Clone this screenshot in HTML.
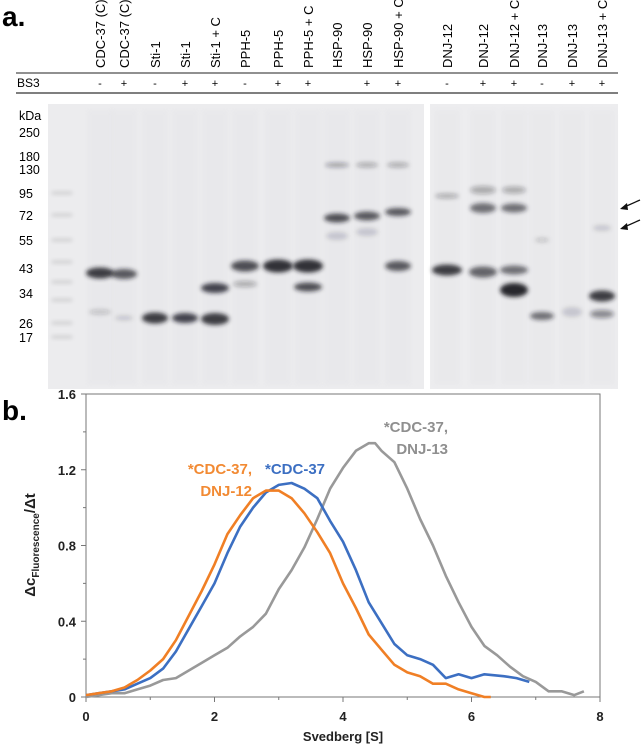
<!DOCTYPE html>
<html><head><meta charset="utf-8">
<style>
body{margin:0;background:#fff;font-family:"Liberation Sans",Arial,sans-serif;}
#wrap{position:relative;width:644px;height:750px;overflow:hidden;}
svg text{font-family:"Liberation Sans",Arial,sans-serif;}
</style></head>
<body>
<div id="wrap">
<svg width="644" height="750" viewBox="0 0 644 750">
<defs>
<filter id="blur" x="-50%" y="-200%" width="200%" height="500%"><feGaussianBlur stdDeviation="2.2"/></filter>
</defs>
<text x="2" y="26" font-size="28" font-weight="bold">a.</text>
<text x="2" y="420" font-size="28" font-weight="bold">b.</text>
<g id="gel"></g>
<g id="chart"></g>
</svg>
</div>
<script>
const NS='http://www.w3.org/2000/svg';
function mk(tag,attrs,parent,txt){const e=document.createElementNS(NS,tag);for(const k in attrs)e.setAttribute(k,attrs[k]);if(txt!==undefined)e.textContent=txt;parent.appendChild(e);return e;}

// ---------- Gel ----------
const laneNames=['CDC-37 (C)','CDC-37 (C)','Sti-1','Sti-1','Sti-1 + C','PPH-5','PPH-5','PPH-5 + C','HSP-90','HSP-90','HSP-90 + C','DNJ-12','DNJ-12','DNJ-12 + C','DNJ-13','DNJ-13','DNJ-13 + C'];
const laneBS3=['-','+','-','+','+','-','+','+','','+','+','-','+','+','-','+','+'];
const laneX=[100,124,155,185,215,245,278,308,337,367,398,447,483,514,542,572,602];
const kdaLabels=['kDa','250','180','130','95','72','55','43','34','26','17'];
const kdaY=[115,132,156,169,193,215,240,268,293,323,337];
const bands=[[0,273,28,9,0.85],[0,312,22,3,0.2],[1,274,26,8,0.7],[1,318,18,3,0.15],
[2,318,26,9,0.85],[3,318,26,8,0.8],[4,319,28,10,0.85],[4,288,28,8,0.8],
[5,266,28,9,0.75],[5,284,24,4,0.3],[6,266,30,11,0.9],[7,266,30,11,0.9],[7,287,28,7,0.75],
[8,218,26,7,0.75],[8,165,24,3,0.35],[8,236,22,6,0.15],[9,216,26,7,0.7],[9,165,22,3,0.3],[9,232,22,6,0.15],[10,212,26,6,0.7],[10,165,22,3,0.3],[10,266,26,8,0.7],
[11,270,30,9,0.85],[11,196,24,3,0.3],[12,272,28,9,0.65],[12,208,26,8,0.6],[12,190,26,6,0.3],[13,270,28,7,0.6],[13,290,28,12,0.95],[13,208,26,7,0.6],[13,190,24,5,0.3],
[14,316,24,6,0.6],[14,240,14,2,0.2],[15,312,20,8,0.15],[16,296,26,9,0.85],[16,314,24,6,0.45],[16,228,18,4,0.15]];

const gel=document.getElementById('gel');
laneNames.forEach((n,i)=>{
  const t=mk('text',{x:0,y:0,'font-size':13,transform:`translate(${laneX[i]+5},68) rotate(-90)`},gel,n);
  
  
  const b=mk('text',{x:laneX[i],y:87,'font-size':11,'text-anchor':'middle'},gel,laneBS3[i]);
  
  
});
mk('line',{x1:16,y1:73,x2:618,y2:73,stroke:'#222','stroke-width':1},gel);
mk('line',{x1:16,y1:93,x2:618,y2:93,stroke:'#555','stroke-width':1.5},gel);
const bsl=mk('text',{x:17,y:87,'font-size':12},gel,'BS3');


kdaLabels.forEach((k,i)=>{
  const t=mk('text',{x:19,y:kdaY[i]+5,'font-size':12.5},gel,k);
  
  
});
const g1=mk('rect',{x:48,y:104,width:376,height:285,fill:'#ececee'},gel);


const g2=mk('rect',{x:430,y:104,width:188,height:285,fill:'#ededef'},gel);


laneX.forEach(x=>{mk('rect',{x:x-13,y:110,width:26,height:275,fill:'#e2e2e6',opacity:0.35,filter:'url(#blur)'},gel);});
[193,215,240,262,282,300,323,337].forEach(y=>{mk('rect',{x:52,y:y-1,width:20,height:2,fill:'#888',opacity:0.45,filter:'url(#blur)'},gel);});
bands.forEach(b=>{
  const e=mk('ellipse',{cx:laneX[b[0]],cy:b[1],rx:b[2]/2,ry:b[3]/2+1,fill:'#1c1c24','fill-opacity':b[4],filter:'url(#blur)'},gel);
  
  
});
[[208],[228]].forEach(a=>{
  const y=a[0];
  const ar=mk('g',{},gel);
  
  
  mk('line',{x1:640,y1:y-8,x2:622,y2:y,stroke:'#111','stroke-width':1.3},ar);
  mk('path',{d:`M620 ${y+1} L627 ${y-5} L628 ${y+2} Z`,fill:'#111'},ar);
});

// ---------- Chart ----------
const xTicks=[0,2,4,6,8];
const yTicks=[0,0.4,0.8,1.2,1.6];
const yTickLabels=['0','0.4','0.8','1.2','1.6'];
const blueX=[0,0.2,0.4,0.6,0.8,1,1.2,1.4,1.6,1.8,2,2.2,2.4,2.6,2.8,3,3.2,3.4,3.6,3.8,4,4.2,4.4,4.6,4.8,5,5.2,5.4,5.6,5.8,6,6.2,6.5,6.7,6.9];
const blueY=[0.01,0.02,0.03,0.04,0.07,0.1,0.15,0.24,0.36,0.48,0.6,0.76,0.9,1.0,1.08,1.12,1.13,1.1,1.05,0.93,0.82,0.67,0.5,0.39,0.28,0.22,0.2,0.17,0.1,0.12,0.1,0.12,0.11,0.1,0.08];
const orangeX=[0,0.2,0.4,0.6,0.8,1,1.2,1.4,1.6,1.8,2,2.2,2.4,2.6,2.8,3,3.2,3.4,3.6,3.8,4,4.2,4.4,4.6,4.8,5,5.2,5.4,5.6,5.8,6,6.2,6.3];
const orangeY=[0.01,0.02,0.03,0.05,0.09,0.14,0.2,0.3,0.43,0.56,0.7,0.86,0.96,1.05,1.09,1.09,1.05,0.97,0.87,0.76,0.6,0.47,0.33,0.25,0.17,0.13,0.11,0.07,0.07,0.04,0.02,0.0,0.0];
const grayX=[0,0.2,0.4,0.6,0.8,1,1.2,1.4,1.6,1.8,2,2.2,2.4,2.6,2.8,3,3.2,3.4,3.6,3.8,4,4.2,4.4,4.5,4.6,4.8,5,5.2,5.4,5.6,5.8,6,6.2,6.4,6.6,6.8,7,7.2,7.4,7.6,7.75];
const grayY=[0.0,0.01,0.02,0.02,0.04,0.06,0.09,0.1,0.14,0.18,0.22,0.26,0.32,0.37,0.44,0.57,0.67,0.79,0.94,1.1,1.21,1.3,1.34,1.34,1.3,1.24,1.1,0.94,0.8,0.64,0.5,0.37,0.27,0.22,0.16,0.11,0.08,0.03,0.03,0.01,0.03];

const chart=document.getElementById('chart');
const X0=86,X1=600,Y0=697,Y1=394;
const sx=v=>X0+(v-0)/(8-0)*(X1-X0);
const sy=v=>Y0-(v-0)/(1.6-0)*(Y0-Y1);
const frame=mk('rect',{x:X0,y:Y1,width:X1-X0,height:Y0-Y1,fill:'none',stroke:'#777','stroke-width':1},chart);


xTicks.forEach(t=>{
  mk('line',{x1:sx(t),y1:Y0,x2:sx(t),y2:Y0+5,stroke:'#777'},chart);
  if(t<8) mk('line',{x1:sx(t+1),y1:Y0,x2:sx(t+1),y2:Y0+3,stroke:'#777'},chart);
  const l=mk('text',{x:sx(t),y:Y0+24,'font-size':13,'font-weight':'bold','text-anchor':'middle',fill:'#222'},chart,String(t));
  
  
});
yTicks.forEach((t,i)=>{
  mk('line',{x1:X0-5,y1:sy(t),x2:X0,y2:sy(t),stroke:'#777'},chart);
  if(i<4) mk('line',{x1:X0-3,y1:sy(t+0.2),x2:X0,y2:sy(t+0.2),stroke:'#777'},chart);
  const l=mk('text',{x:X0-10,y:sy(t)+5,'font-size':13,'font-weight':'bold','text-anchor':'end',fill:'#222'},chart,yTickLabels[i]);
  
  
});
function series(xs,ys,color,name){
  const d=xs.map((x,i)=>(i?'L':'M')+sx(x).toFixed(1)+' '+sy(ys[i]).toFixed(1)).join(' ');
  const p=mk('path',{d:d,fill:'none',stroke:color,'stroke-width':2.6,'stroke-linejoin':'round'},chart);
  
  
}
series(grayX,grayY,'#999999','line-cdc37-dnj13');
series(blueX,blueY,'#3c6fc2','line-cdc37');
series(orangeX,orangeY,'#f07f25','line-cdc37-dnj12');
function lab(x,y,txt,c,anchor,name){const t=mk('text',{x:x,y:y,'font-size':15,'font-weight':'bold',fill:c,'text-anchor':anchor},chart,txt);}
lab(252,474,'*CDC-37,','#f28a33','end','label-cdc37-dnj12');
lab(252,496,'DNJ-12','#f28a33','end','label-cdc37-dnj12-line2');
lab(265,474,'*CDC-37','#3c6fc2','start','label-cdc37');
lab(448,432,'*CDC-37,','#8f8f8f','end','label-cdc37-dnj13');
lab(448,454,'DNJ-13','#8f8f8f','end','label-cdc37-dnj13-line2');
const xt=mk('text',{x:sx(4),y:741,'font-size':13,'font-weight':'bold','text-anchor':'middle',fill:'#222'},chart,'Svedberg [S]');


const yt=mk('text',{x:0,y:0,'font-size':15,'font-weight':'bold','text-anchor':'middle',fill:'#222',transform:'translate(35,545) rotate(-90)'},chart);


mk('tspan',{},yt,'Δc');
mk('tspan',{'font-size':10,dy:4},yt,'Fluorescence');
mk('tspan',{dy:-4},yt,'/Δt');
</script>
</body></html>
